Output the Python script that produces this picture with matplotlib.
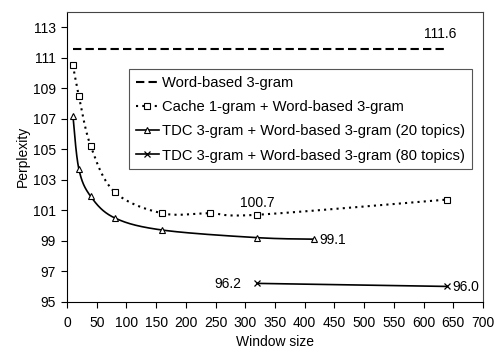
import numpy as np
import matplotlib
matplotlib.use("Agg")
import matplotlib.pyplot as plt

plt.rcParams['font.family'] = ['Liberation Sans', 'DejaVu Sans']

# Data
word_x = [10, 640]
word_y = [111.6, 111.6]
cache_x = [10, 20, 40, 80, 160, 240, 320, 640]
cache_y = [110.5, 108.5, 105.2, 102.2, 100.8, 100.8, 100.7, 101.7]
tdc20_x = [10, 20, 40, 80, 160, 320, 415]
tdc20_y = [107.2, 103.7, 101.9, 100.5, 99.7, 99.2, 99.1]
tdc80_x = [320, 640]
tdc80_y = [96.2, 96.0]
labels = ["Word-based 3-gram",
          "Cache 1-gram + Word-based 3-gram",
          "TDC 3-gram + Word-based 3-gram (20 topics)",
          "TDC 3-gram + Word-based 3-gram (80 topics)"]
xticks = list(range(0, 701, 50))
yticks = list(range(95, 114, 2))

XR, YR = 700.0, 19.0


def smooth(xs, ys, n=40):
    # Catmull-Rom smoothing in normalized coordinates (Excel-like smoothed line)
    P = np.column_stack([np.asarray(xs, float) / XR, np.asarray(ys, float) / YR * 0.7])
    P = np.vstack([P[0], P, P[-1]])
    out = []
    for i in range(1, len(P) - 2):
        p0, p1, p2, p3 = P[i - 1], P[i], P[i + 1], P[i + 2]
        t = np.linspace(0, 1, n)[:, None]
        seg = 0.5 * ((2 * p1) + (-p0 + p2) * t + (2 * p0 - 5 * p1 + 4 * p2 - p3) * t ** 2
                     + (-p0 + 3 * p1 - 3 * p2 + p3) * t ** 3)
        out.append(seg)
    S = np.vstack(out)
    return S[:, 0] * XR, S[:, 1] * YR / 0.7


fig = plt.figure(figsize=(4.94, 3.51), dpi=100)
ax = fig.add_axes([0.1356, 0.1405, 0.842, 0.8253])

l1, = ax.plot(word_x, word_y, color='black', lw=1.5, dashes=(4, 2))

cx, cy = smooth(cache_x, cache_y)
ax.plot(cx, cy, color='black', lw=1.5, dashes=(1, 2))
ax.plot(cache_x, cache_y, ls='none', marker='s', ms=4.3, mfc='white', mec='black', mew=0.8)
l2, = ax.plot([], [], color='black', lw=1.5, dashes=(1, 2), marker='s', ms=4.3,
              mfc='white', mec='black', mew=0.8)

tx, ty = smooth(tdc20_x, tdc20_y)
ax.plot(tx, ty, color='black', lw=1.2)
ax.plot(tdc20_x, tdc20_y, ls='none', marker='^', ms=4.5, mfc='white', mec='black', mew=0.8)
l3, = ax.plot([], [], color='black', lw=1.2, marker='^', ms=4.5, mfc='white', mec='black', mew=0.8)

l4, = ax.plot(tdc80_x, tdc80_y, color='black', lw=1.2, marker='x', ms=4.5, mew=0.9)

fs = 10
ax.text(628, 112.55, "111.6", fontsize=fs, ha='center', va='center')
ax.text(321, 101.5, "100.7", fontsize=fs, ha='center', va='center')
ax.text(425, 99.05, "99.1", fontsize=fs, ha='left', va='center')
ax.text(270, 96.15, "96.2", fontsize=fs, ha='center', va='center')
ax.text(648, 95.98, "96.0", fontsize=fs, ha='left', va='center')

ax.set_xlim(0, 700)
ax.set_ylim(95, 114)
ax.set_xticks(xticks)
ax.set_yticks(yticks)
ax.tick_params(labelsize=fs, direction='out', length=4, width=0.8, pad=4)
ax.tick_params(axis='x', pad=6)
ax.set_xlabel("Window size", fontsize=fs, labelpad=4)
ax.set_ylabel("Perplexity", fontsize=fs, labelpad=2)
for s in ax.spines.values():
    s.set_linewidth(0.8)
ax.spines['top'].set_color('#444444')
ax.spines['right'].set_color('#444444')

leg = ax.legend([l1, l2, l3, l4], labels, loc='upper left', bbox_to_anchor=(0.149, 0.803),
                borderaxespad=0, fontsize=10.6, fancybox=False, framealpha=1,
                edgecolor='#555555', handlelength=1.6, handletextpad=0.2,
                labelspacing=0.7, borderpad=0.45)
leg.get_frame().set_linewidth(0.8)

fig.savefig("out.png", dpi=100)
